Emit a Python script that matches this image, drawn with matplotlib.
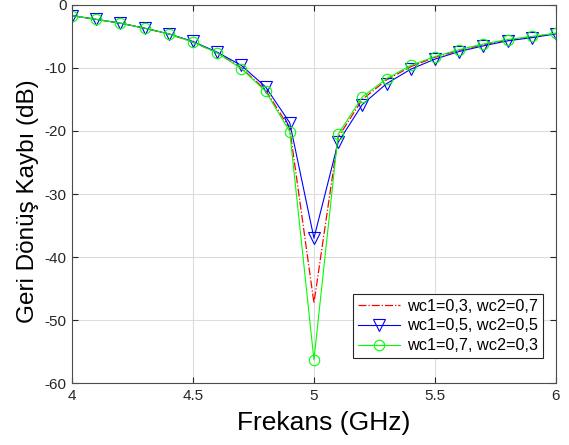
import numpy as np
import matplotlib
matplotlib.use("Agg")
import matplotlib.pyplot as plt

plt.rcParams['font.family'] = ['Liberation Sans', 'DejaVu Sans']
plt.rcParams['axes.unicode_minus'] = False

freq = [4.0, 4.1, 4.2, 4.3, 4.4, 4.5, 4.6, 4.7, 4.8, 4.9, 5.0,
        5.1, 5.2, 5.3, 5.4, 5.5, 5.6, 5.7, 5.8, 5.9, 6.0]

s11_03_07 = [-1.7, -2.3, -2.9, -3.7, -4.6, -5.9, -7.6, -10.0, -13.5, -19.6, -47.3,
             -21.0, -15.0, -11.9, -9.8, -8.3, -7.2, -6.3, -5.6, -5.1, -4.5]
s11_05_05 = [-1.7, -2.3, -2.9, -3.7, -4.6, -5.8, -7.5, -9.6, -13.0, -18.7, -37.0,
             -21.8, -15.8, -12.5, -10.2, -8.6, -7.4, -6.5, -5.7, -5.2, -4.6]
s11_07_03 = [-1.7, -2.3, -2.9, -3.7, -4.6, -5.9, -7.6, -10.1, -13.7, -20.1, -56.3,
             -20.5, -14.6, -11.7, -9.6, -8.2, -7.1, -6.2, -5.5, -5.0, -4.5]

labels = ['wc1=0,3, wc2=0,7', 'wc1=0,5, wc2=0,5', 'wc1=0,7, wc2=0,3']

fig = plt.figure(figsize=(5.69, 4.45), dpi=100)
ax = fig.add_axes([0.1265, 0.139, 0.8505, 0.85])

ax.plot(freq, s11_03_07, color='#ff0000', linestyle='-.', linewidth=0.9, label=labels[0])
ax.plot(freq, s11_05_05, color='#0000ff', linestyle='-', linewidth=0.8, marker='v',
        markersize=8, markerfacecolor='none', markeredgewidth=0.8, label=labels[1])
ax.plot(freq, s11_07_03, color='#00ff00', linestyle='-', linewidth=0.8, marker='o',
        markersize=7.5, markerfacecolor='none', markeredgewidth=0.8, label=labels[2])

ax.set_xlim(4, 6)
ax.set_ylim(-60, 0)
ax.set_xticks([4, 4.5, 5, 5.5, 6])
ax.set_xticklabels(['4', '4.5', '5', '5.5', '6'])
ax.set_yticks([-60, -50, -40, -30, -20, -10, 0])
ax.grid(True, color='#dcdcdc', linewidth=0.8)
ax.tick_params(direction='in', top=True, right=True, labelsize=11, colors='#262626',
               length=4, pad=4)
for sp in ax.spines.values():
    sp.set_color('#4d4d4d')
    sp.set_linewidth(0.8)

ax.set_xlabel('Frekans (GHz)', fontsize=19, labelpad=6)
ax.set_ylabel('Geri Dönüş Kaybı (dB)', fontsize=17.5, labelpad=4)
ax.xaxis.label.set_x(0.521)
ax.yaxis.label.set_y(0.48)

leg = ax.legend(loc='lower right', fontsize=11.7, fancybox=False, framealpha=1,
                edgecolor='#262626', borderpad=0.3, handlelength=2.6,
                handletextpad=0.4, labelspacing=0.3, borderaxespad=0,
                bbox_to_anchor=(0.973, 0.066))
leg.get_frame().set_linewidth(0.8)

fig.savefig('out.png', dpi=100)
